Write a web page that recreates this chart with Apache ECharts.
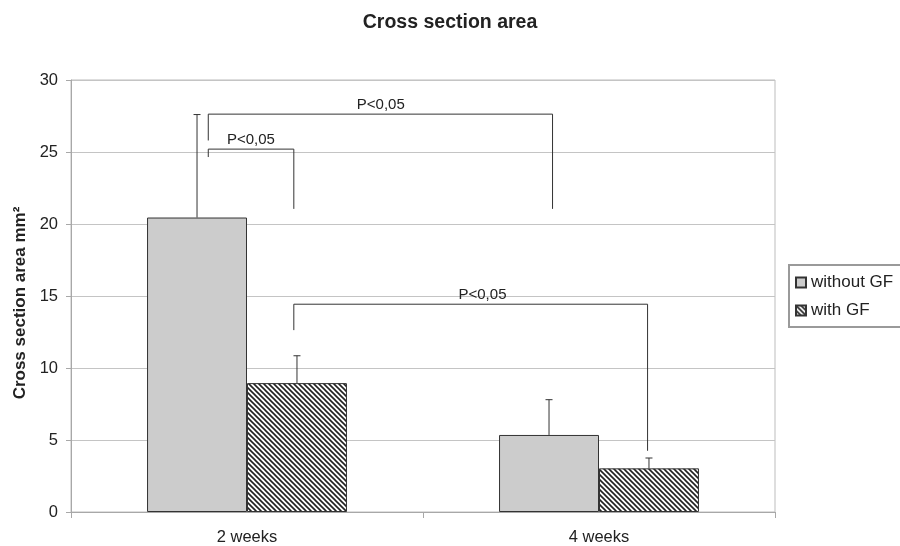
<!DOCTYPE html>
<html>
<head>
<meta charset="utf-8">
<script src="https://cdn.jsdelivr.net/npm/echarts@6/dist/echarts.min.js"></script>
<style>html,body{margin:0;padding:0;background:#fff;}#c{width:900px;height:546px;}</style>
</head>
<body>
<div id="c"></div>
<script>
// ---- data ----
const categories = ['2 weeks', '4 weeks'];
const seriesNames = ['without GF', 'with GF'];
const withoutGF = [20.45, 5.35];
const withGF = [8.95, 3.03];
const withoutGFErrTop = [27.6, 7.8];
const withGFErrTop = [10.85, 3.75];
const yTicks = [0, 5, 10, 15, 20, 25, 30];
// brackets: [xLeft, xRight, yLeftEnd, yTop, yRightEnd, labelX, label]
const brackets = [
  [-0.11, 0.868, 25.8, 27.63, 21.05, 0.38, 'P<0,05'],
  [-0.11, 0.133, 24.65, 25.2, 21.05, 0.011, 'P<0,05'],
  [0.133, 1.138, 12.63, 14.43, 4.25, 0.669, 'P<0,05']
];

const FONT = 'Liberation Sans, Arial, sans-serif';
const barFrac = 0.284;
function hatch() {
  const s = 5, c = document.createElement('canvas');
  c.width = s; c.height = s;
  const g = c.getContext('2d');
  g.fillStyle = '#fff'; g.fillRect(0, 0, s, s);
  g.strokeStyle = '#222'; g.lineWidth = 1.6;
  g.beginPath();
  g.moveTo(-1, -1); g.lineTo(s + 1, s + 1);
  g.moveTo(-1, s - 1); g.lineTo(1, s + 1);
  g.moveTo(s - 1, -1); g.lineTo(s + 1, 1);
  g.stroke();
  return c;
}
const hatchFill = { image: hatch(), repeat: 'repeat' };

const errData = [];
withoutGF.forEach((v, i) => errData.push([i - barFrac / 2, v, withoutGFErrTop[i]]));
withGF.forEach((v, i) => errData.push([i + barFrac / 2, v, withGFErrTop[i]]));

const chart = echarts.init(document.getElementById('c'));
const lineStyle = { stroke: '#333', lineWidth: 1 };
chart.setOption({
  animation: false,
  textStyle: { fontFamily: FONT },
  title: {
    text: 'Cross section area', left: 'center', top: 8,
    textStyle: { fontSize: 19.5, fontWeight: 'bold', color: '#222', fontFamily: FONT }
  },
  legend: {
    data: seriesNames, orient: 'vertical', left: 789, top: 265,
    backgroundColor: '#fff', borderColor: '#9a9a9a', borderWidth: 2,
    padding: [9, 20, 8, 6], itemGap: 11, itemWidth: 10, itemHeight: 10, icon: 'rect',
    textStyle: { fontSize: 17, color: '#222', fontFamily: FONT }
  },
  grid: { left: 71, right: 125, top: 80, bottom: 33, show: true, borderColor: '#bdbdbd', borderWidth: 1 },
  xAxis: [
    {
      type: 'category', data: categories,
      axisLine: { lineStyle: { color: '#a8a8a8' } },
      axisTick: { show: true, length: 6, lineStyle: { color: '#a8a8a8' } },
      axisLabel: { fontSize: 16.5, color: '#222', margin: 17 }
    },
    { type: 'value', min: -0.5, max: 1.5, show: false }
  ],
  yAxis: {
    type: 'value', min: 0, max: 30, interval: 5,
    name: 'Cross section area mm²', nameLocation: 'middle', nameGap: 42,
    nameTextStyle: { fontSize: 17, fontWeight: 'bold', color: '#222', padding: [0, 0, 0, -14] },
    axisLine: { show: true, onZero: false, lineStyle: { color: '#a8a8a8' } },
    axisTick: { show: true, length: 5, lineStyle: { color: '#a8a8a8' } },
    axisLabel: { fontSize: 16.5, color: '#222', margin: 13,
      formatter: v => (yTicks.indexOf(v) >= 0 ? String(v) : '') },
    splitLine: { lineStyle: { color: '#c4c4c4' } }
  },
  series: [
    {
      name: seriesNames[0], type: 'bar', data: withoutGF, barWidth: (barFrac * 100) + '%', barGap: '0%',
      itemStyle: { color: '#cccccc', borderColor: '#333', borderWidth: 1 }
    },
    {
      name: seriesNames[1], type: 'bar', data: withGF, barWidth: (barFrac * 100) + '%', barGap: '0%',
      itemStyle: { color: hatchFill, borderColor: '#333', borderWidth: 1 }
    },
    {
      type: 'custom', xAxisIndex: 1, data: errData, z: 5,
      renderItem: function (params, api) {
        const x = api.value(0);
        const p0 = api.coord([x, api.value(1)]);
        const p1 = api.coord([x, api.value(2)]);
        return {
          type: 'group', children: [
            { type: 'line', shape: { x1: p0[0], y1: p0[1], x2: p1[0], y2: p1[1] }, style: lineStyle },
            { type: 'line', shape: { x1: p1[0] - 3.5, y1: p1[1], x2: p1[0] + 3.5, y2: p1[1] }, style: lineStyle }
          ]
        };
      }
    },
    {
      type: 'custom', xAxisIndex: 1, data: brackets, z: 5,
      renderItem: function (params, api) {
        const a = api.coord([api.value(0), api.value(2)]);
        const b = api.coord([api.value(0), api.value(3)]);
        const c = api.coord([api.value(1), api.value(3)]);
        const d = api.coord([api.value(1), api.value(4)]);
        const l = api.coord([api.value(5), api.value(3)]);
        return {
          type: 'group', children: [
            { type: 'polyline', shape: { points: [a, b, c, d] }, style: { stroke: '#333', lineWidth: 1, fill: null } },
            { type: 'text', style: { text: brackets[params.dataIndex][6], x: l[0], y: b[1] - 2,
              align: 'center', verticalAlign: 'bottom', fontSize: 15, fill: '#222', fontFamily: FONT } }
          ]
        };
      }
    }
  ]
});
</script>
</body>
</html>
